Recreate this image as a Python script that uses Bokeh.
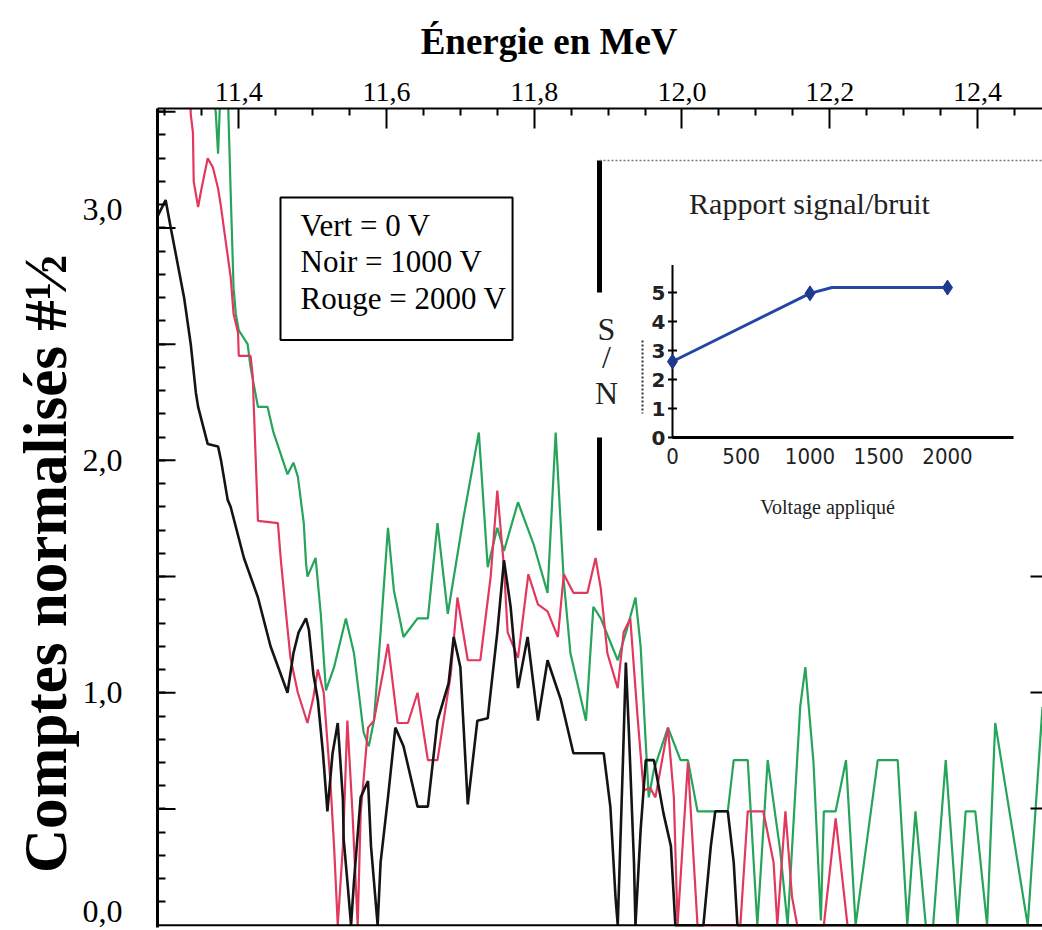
from bokeh.plotting import figure
from bokeh.models import Range1d, FixedTicker, CustomJSTickFormatter, Label, Span, LinearAxis, Title
from bokeh.embed import file_html
from bokeh.resources import INLINE
from bokeh.core.properties import value

# ---------------- data ----------------
x_major_ticks = [11.4, 11.6, 11.8, 12.0, 12.2, 12.4]
x_minor_ticks = [11.30, 11.35, 11.45, 11.50, 11.55, 11.65, 11.70, 11.75, 11.85, 11.90,
                 11.95, 12.05, 12.10, 12.15, 12.25, 12.30, 12.35, 12.45]
y_long_ticks = [0.5, 1.0, 1.5, 2.0, 2.5, 3.0, 3.5]
y_minor_ticks = [round(0.1 * i, 1) for i in range(1, 36)]
# where the printed y labels sit (the scan shows "3,0" raised above its tick, "0,0" on the edge)
y_label_positions = [0.06, 1.0, 2.0, 3.08]
right_ticks = [0.5, 1.0, 1.5]

# Noir = 1000 V
E_black = [11.290, 11.301, 11.308, 11.326, 11.335, 11.342, 11.345, 11.358, 11.372, 11.376,
           11.385, 11.389, 11.407, 11.426, 11.443, 11.466, 11.474, 11.481, 11.491, 11.495,
           11.501, 11.507, 11.514, 11.520, 11.527, 11.534, 11.541, 11.542, 11.547, 11.552,
           11.556, 11.565, 11.575, 11.579, 11.588, 11.592, 11.602, 11.612, 11.623, 11.642,
           11.656, 11.669, 11.684, 11.691, 11.700, 11.710, 11.723, 11.737, 11.750, 11.759,
           11.768, 11.778, 11.791, 11.805, 11.818, 11.836, 11.853, 11.894, 11.903, 11.910,
           11.913, 11.920, 11.924, 11.928, 11.935, 11.937, 11.944, 11.951, 11.962, 11.975,
           11.985, 11.991, 12.029, 12.039, 12.045, 12.062, 12.070, 12.075, 12.488]
C_black = [3.05, 3.12, 3.00, 2.70, 2.50, 2.29, 2.23, 2.07, 2.06, 2.00,
           1.83, 1.80, 1.58, 1.41, 1.20, 1.00, 1.17, 1.26, 1.32, 1.27,
           1.08, 0.97, 0.74, 0.49, 0.74, 0.87, 0.54, 0.37, 0.19, 0.00,
           0.19, 0.55, 0.62, 0.34, 0.00, 0.27, 0.55, 0.85, 0.77, 0.51,
           0.51, 0.88, 1.04, 1.24, 1.11, 0.52, 0.88, 0.89, 1.26, 1.57,
           1.37, 1.02, 1.24, 0.88, 1.14, 0.97, 0.74, 0.74, 0.51, 0.12,
           0.00, 0.70, 1.13, 0.84, 0.27, 0.00, 0.41, 0.71, 0.71, 0.48,
           0.34, 0.00, 0.00, 0.34, 0.49, 0.49, 0.27, 0.00, 0.00]

# Rouge = 2000 V
E_red = [11.333, 11.335, 11.338, 11.339, 11.345, 11.349, 11.358, 11.365, 11.372, 11.376, 11.382,
         11.389, 11.393, 11.399, 11.400, 11.416, 11.419, 11.420, 11.426, 11.453, 11.457,
         11.464, 11.470, 11.480, 11.493, 11.501, 11.507, 11.515, 11.524, 11.529, 11.534,
         11.541, 11.547, 11.554, 11.561, 11.565, 11.575, 11.583, 11.596, 11.602, 11.615,
         11.629, 11.642, 11.656, 11.669, 11.687, 11.696, 11.710, 11.727, 11.741, 11.750,
         11.759, 11.764, 11.778, 11.792, 11.805, 11.818, 11.832, 11.840, 11.853, 11.872,
         11.883, 11.890, 11.899, 11.913, 11.921, 11.930, 11.940, 11.948, 11.957, 11.964,
         11.981, 11.989, 11.994, 12.008, 12.021, 12.079, 12.089, 12.110, 12.124, 12.129,
         12.140, 12.149, 12.156, 12.192, 12.208, 12.224, 12.488]
C_red = [3.80, 3.49, 3.41, 3.20, 3.09, 3.16, 3.30, 3.26, 3.17, 3.09, 2.95,
         2.79, 2.63, 2.55, 2.45, 2.45, 2.36, 2.26, 1.74, 1.73, 1.57,
         1.34, 1.15, 1.00, 0.87, 0.98, 1.10, 1.00, 0.62, 0.34, 0.00,
         0.34, 0.88, 0.48, 0.00, 0.48, 0.85, 0.88, 1.10, 1.21, 0.87,
         0.87, 1.00, 0.71, 0.71, 1.08, 1.41, 1.14, 1.14, 1.50, 1.87,
         1.54, 1.26, 1.15, 1.51, 1.38, 1.35, 1.24, 1.51, 1.43, 1.43,
         1.58, 1.45, 1.17, 1.02, 1.26, 1.32, 0.89, 0.58, 0.59, 0.55,
         0.85, 0.55, 0.00, 0.70, 0.00, 0.00, 0.49, 0.49, 0.27, 0.00,
         0.49, 0.12, 0.00, 0.00, 0.46, 0.00, 0.00]

# Vert = 0 V
E_green = [11.360, 11.369, 11.372, 11.374, 11.377, 11.384, 11.386, 11.389, 11.393, 11.396,
           11.400, 11.412, 11.416, 11.426, 11.439, 11.447, 11.466, 11.474, 11.480, 11.488,
           11.491, 11.493, 11.504, 11.511, 11.518, 11.529, 11.545, 11.556, 11.569, 11.576,
           11.583, 11.592, 11.602, 11.610, 11.623, 11.642, 11.656, 11.669, 11.683, 11.704,
           11.725, 11.737, 11.750, 11.759, 11.778, 11.799, 11.818, 11.829, 11.840, 11.849,
           11.870, 11.880, 11.890, 11.913, 11.926, 11.937, 11.944, 11.951, 11.955, 11.962,
           11.981, 11.998, 12.008, 12.021, 12.062, 12.070, 12.089, 12.102, 12.116, 12.133,
           12.143, 12.160, 12.167, 12.178, 12.188, 12.192, 12.208, 12.222, 12.235, 12.265,
           12.292, 12.305, 12.316, 12.330, 12.340, 12.357, 12.373, 12.384, 12.397, 12.413,
           12.424, 12.468, 12.488]
C_green = [3.80, 3.49, 3.32, 3.49, 3.80, 3.80, 3.49, 3.16, 2.74, 2.63,
           2.56, 2.50, 2.40, 2.23, 2.23, 2.12, 1.94, 1.99, 1.93, 1.73,
           1.56, 1.50, 1.58, 1.34, 1.01, 1.11, 1.32, 1.17, 0.83, 0.77,
           0.88, 1.26, 1.71, 1.44, 1.24, 1.32, 1.32, 1.73, 1.34, 1.75,
           2.12, 1.54, 1.71, 1.61, 1.82, 1.64, 1.43, 2.12, 1.48, 1.17,
           0.88, 1.37, 1.32, 1.14, 1.28, 1.41, 1.20, 0.78, 0.55, 0.67,
           0.85, 0.71, 0.71, 0.49, 0.49, 0.71, 0.71, 0.00, 0.71, 0.32,
           0.00, 0.94, 1.11, 0.70, 0.02, 0.49, 0.49, 0.71, 0.00, 0.71,
           0.71, 0.00, 0.49, 0.00, 0.00, 0.71, 0.00, 0.49, 0.49, 0.00,
           0.87, 0.00, 0.94]

# Inset: signal / noise ratio vs applied voltage
sn_voltage = [0, 1000, 2000]
sn_ratio = [2.62, 4.97, 5.17]
sn_line_voltage = [0, 1000, 1160, 2000]
sn_line_ratio = [2.62, 4.97, 5.17, 5.17]
sn_y_ticks = [0, 1, 2, 3, 4, 5]
sn_x_ticks = [0, 500, 1000, 1500, 2000]
sn_x_labels = ["0", "500", "1000", "1500", "2000"]

legend_text = "Vert = 0 V\nNoir = 1000 V\nRouge = 2000 V"
title_text = "Énergie en MeV"
ylabel_text = "Comptes normalisés #½"
NBSP = "\u00a0"

# ---------------- layout geometry ----------------
W, H = 1042, 930
FL, FR, FT, FB = 157, 1042, 108, 927
X0, X1 = 11.29, 12.488
Y0, Y1 = -0.01, 3.514


def px(x):
    return X0 + (x - FL) * (X1 - X0) / (FR - FL)


def py(y):
    return Y0 + (FB - y) * (Y1 - Y0) / (FB - FT)


SERIF = "Liberation Serif"
GREEN = "#25a45a"
RED = "#e2385e"
BLACK = "#141414"
BLUE = "#2447a6"

p = figure(width=W, height=H, x_range=Range1d(X0, X1), y_range=Range1d(Y0, Y1),
           x_axis_location="above", y_axis_location="left",
           output_backend="svg", toolbar_location=None,
           min_border_left=FL, min_border_right=0, min_border_top=FT,
           min_border_bottom=H - FB)
p.grid.visible = False
p.outline_line_color = None
p.background_fill_color = "white"
p.border_fill_color = "white"

# top title (trailing no-break spaces shift the centred text left, as printed)
p.title = Title(text=title_text + NBSP * 11, align="center", text_font=SERIF,
                text_font_size="37px", text_font_style="bold", text_color="black",
                standoff=36)

xa = p.xaxis[0]
xa.ticker = FixedTicker(ticks=x_major_ticks, minor_ticks=x_minor_ticks)
xa.formatter = CustomJSTickFormatter(code="return tick.toFixed(1).replace('.', ',');")
xa.major_tick_in = 20
xa.major_tick_out = 0
xa.minor_tick_in = 7
xa.minor_tick_out = 0
xa.major_tick_line_width = 2
xa.minor_tick_line_width = 2
xa.axis_line_width = 2
xa.axis_line_color = "black"
xa.major_label_text_font = SERIF
xa.major_label_text_font_size = "28px"
xa.major_label_text_color = "black"
xa.major_label_standoff = 8

ya = p.yaxis[0]
ya.ticker = FixedTicker(ticks=y_label_positions, minor_ticks=y_minor_ticks)
ya.formatter = CustomJSTickFormatter(
    code="return Math.round(tick).toFixed(1).replace('.', ',');")
ya.major_tick_line_color = None
ya.major_tick_in = 0
ya.major_tick_out = 0
ya.minor_tick_in = 8
ya.minor_tick_out = 0
ya.minor_tick_line_width = 2
ya.axis_line_width = 3
ya.axis_line_color = "black"
ya.major_label_text_font = SERIF
ya.major_label_text_font_size = "32px"
ya.major_label_text_color = "black"
ya.major_label_standoff = 35

# long ticks every 0.5 (half of each dash is clipped by the frame edge)
p.scatter(x=[X0] * len(y_long_ticks), y=y_long_ticks, marker="dash", size=36,
          line_color="black", line_width=2)

ra = LinearAxis(ticker=FixedTicker(ticks=right_ticks, minor_ticks=[]),
                formatter=CustomJSTickFormatter(code="return '';"),
                axis_line_color=None, major_tick_in=12, major_tick_out=0,
                major_tick_line_width=2, major_label_text_font_size="1px",
                major_label_standoff=0)
p.add_layout(ra, "right")

p.add_layout(Title(text=ylabel_text + NBSP * 6, align="center", text_font=SERIF,
                   text_font_size="61px", text_font_style="bold", text_color="black",
                   standoff=2), "left")

p.add_layout(Span(location=0, dimension="width", line_color="black", line_width=2))

# spectra
p.line(E_green, C_green, line_color=GREEN, line_width=2.2)
p.line(E_red, C_red, line_color=RED, line_width=2.2)
p.line(E_black, C_black, line_color=BLACK, line_width=2.6)

# legend box
p.add_layout(Label(x=px(280), y=py(197), text=legend_text, text_align="left",
                   text_baseline="top", text_font=SERIF, text_font_size="31px",
                   text_color="black", text_line_height=1.05,
                   border_line_color="black", border_line_width=2,
                   background_fill_color="white",
                   padding=dict(left=20, right=6, top=10, bottom=24)))

# ---------------- inset ----------------
p.segment(x0=[px(599), px(599)], y0=[py(160), py(437)], x1=[px(599), px(599)],
          y1=[py(292), py(530)], line_color="black", line_width=5)
p.segment(x0=[px(599)], y0=[py(160)], x1=[px(1042)], y1=[py(160)],
          line_color="#777777", line_width=1.5, line_dash="2 2")
p.segment(x0=[px(642)], y0=[py(340)], x1=[px(642)], y1=[py(413)],
          line_color="#333333", line_width=2, line_dash="2 2")

sub = p.subplot(x_source=Range1d(0, 2480), y_source=Range1d(0, 6),
                x_target=Range1d(px(672), px(1013)), y_target=Range1d(py(437), py(263)))
sub.segment(x0=[0], y0=[0], x1=[2480], y1=[0], line_color="black", line_width=3)
sub.segment(x0=[0], y0=[0], x1=[0], y1=[5.95], line_color="black", line_width=2)
sub.scatter(x=[0] * len(sn_y_ticks), y=sn_y_ticks, marker="dash", size=9,
            line_color="black", line_width=2)
sub.text(x=[0] * len(sn_y_ticks), y=sn_y_ticks, text=[str(t) for t in sn_y_ticks],
         x_offset=-7, text_align="right", text_baseline="middle",
         text_font=value("DejaVu Sans"), text_font_style="bold",
         text_font_size="20px", text_color="#222222")
sub.text(x=sn_x_ticks, y=[0] * len(sn_x_ticks), text=sn_x_labels, y_offset=10,
         text_align="center", text_baseline="top",
         text_font=value("DejaVu Sans Condensed, DejaVu Sans"),
         text_font_size="22px", text_color="#222222")
sub.line(sn_line_voltage, sn_line_ratio, line_color=BLUE, line_width=3)
sub.scatter(sn_voltage, sn_ratio, marker="diamond", size=15,
            fill_color="#1d3a8f", line_color="#1d3a8f")

p.add_layout(Label(x=px(809), y=py(203), text="Rapport signal/bruit", text_align="center",
                   text_baseline="middle", text_font=SERIF, text_font_size="30px",
                   text_color="#222222"))
p.add_layout(Label(x=px(827), y=py(506), text="Voltage appliqué", text_align="center",
                   text_baseline="middle", text_font=SERIF, text_font_size="20px",
                   text_color="#222222"))
for ch, yy in (("S", 328), ("/", 356), ("N", 392)):
    p.add_layout(Label(x=px(606), y=py(yy), text=ch, text_align="center",
                       text_baseline="middle", text_font=SERIF, text_font_size="32px",
                       text_color="#222222"))

open("out.html", "w").write(file_html(p, INLINE))
